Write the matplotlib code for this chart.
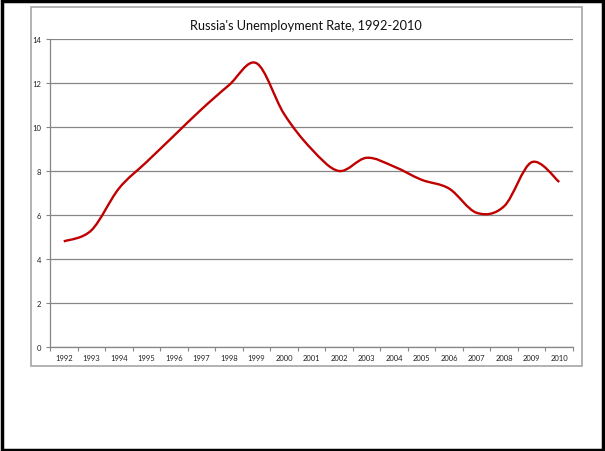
import numpy as np
import matplotlib
matplotlib.use("Agg")
from matplotlib import pyplot as plt
from matplotlib.path import Path
from matplotlib.patches import PathPatch, Rectangle

years = ['1992', '1993', '1994', '1995', '1996', '1997', '1998', '1999', '2000', '2001',
         '2002', '2003', '2004', '2005', '2006', '2007', '2008', '2009', '2010']
rate = [4.8, 5.3, 7.2, 8.4, 9.6, 10.8, 11.9, 12.9, 10.6, 9.0,
        8.0, 8.6, 8.2, 7.6, 7.2, 6.1, 6.4, 8.4, 7.5]
yticks = [0, 2, 4, 6, 8, 10, 12, 14]

plt.rcParams['font.family'] = ['Lato', 'DejaVu Sans']


def smooth_path(x, y):
    # excel style smoothed line: bezier segments with catmull-rom handles
    x = np.asarray(x, float)
    y = np.asarray(y, float)
    n = len(x)
    verts = [(x[0], y[0])]
    codes = [Path.MOVETO]
    for i in range(n - 1):
        p0 = i - 1 if i > 0 else i
        p3 = i + 2 if i + 2 < n else i + 1
        c1 = (x[i] + (x[i + 1] - x[p0]) / 6, y[i] + (y[i + 1] - y[p0]) / 6)
        c2 = (x[i + 1] - (x[p3] - x[i]) / 6, y[i + 1] - (y[p3] - y[i]) / 6)
        verts += [c1, c2, (x[i + 1], y[i + 1])]
        codes += [Path.CURVE4] * 3
    return Path(verts, codes)


fig = plt.figure(figsize=(6.05, 4.52), dpi=100)
W, H = 605, 452

# outer black border and the light chart frame
fig.patches.append(Rectangle((1.5 / W, 1.5 / H), 1 - 3.5 / W, 1 - 3 / H, transform=fig.transFigure,
                             fill=False, edgecolor='black', linewidth=2.5))
fig.patches.append(Rectangle((31 / W, 1 - 367 / H), 551 / W, 359 / H, transform=fig.transFigure,
                             fill=False, edgecolor='#a6a6a6', linewidth=1.2))

ax = fig.add_axes([50 / W, 1 - 348 / H, 523 / W, 308 / H])
xs = np.arange(len(years))
ax.add_patch(PathPatch(smooth_path(xs, rate), facecolor='none', edgecolor='#c00000',
                       linewidth=1.7, capstyle='butt', zorder=3))

ax.set_xlim(-0.5, len(years) - 0.5)
ax.set_ylim(0, 14)
ax.set_yticks(yticks)
ax.set_yticklabels([str(v) for v in yticks])
ax.set_xticks(xs)
ax.set_xticklabels(years)
ax.set_xticks(np.arange(-0.5, len(years)), minor=True)
ax.tick_params(axis='x', which='major', length=0, labelsize=5.5, pad=5, colors='#222222')
ax.tick_params(axis='x', which='minor', length=3, color='#868686', width=0.8)
ax.tick_params(axis='y', length=3, width=0.8, labelsize=5.5, pad=3.5, colors='#222222')
ax.tick_params(axis='y', color='#868686')
ax.yaxis.grid(True, color='#868686', linewidth=0.9)
ax.set_axisbelow(True)
for side in ('top', 'right'):
    ax.spines[side].set_visible(False)
for side in ('left', 'bottom'):
    ax.spines[side].set_color('#868686')
    ax.spines[side].set_linewidth(0.9)

fig.text(306 / W, 1 - 26 / H, "Russia's Unemployment Rate, 1992-2010", ha='center', va='center',
         fontsize=9.2, color='#111111')

fig.savefig('out.png', dpi=100)
